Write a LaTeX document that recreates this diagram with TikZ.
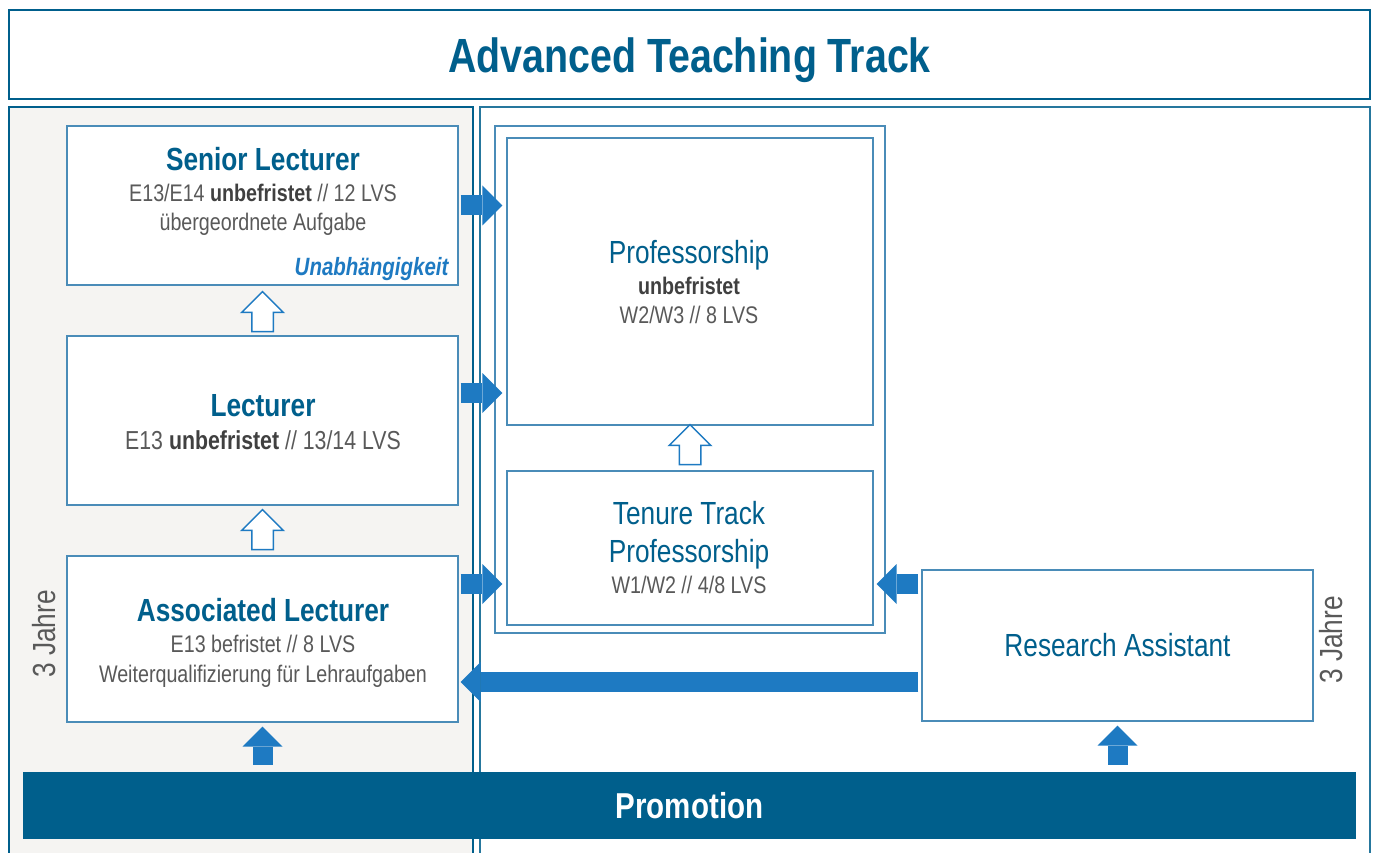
\documentclass[tikz,border=0pt]{standalone}
\usepackage{fontspec}
\setmainfont{Liberation Sans}[FakeStretch=0.82]
\usetikzlibrary{arrows.meta,shapes.arrows}

\definecolor{trackblue}{HTML}{005F8C}
\definecolor{boxblue}{HTML}{4A8CB8}
\definecolor{arrowblue}{HTML}{1E7AC2}
\definecolor{infogray}{HTML}{595959}
\definecolor{boldgray}{HTML}{404040}
\definecolor{panelgray}{HTML}{F5F4F2}

\tikzset{
  box/.style={draw=boxblue, line width=1.3pt, fill=white, inner sep=0pt},
  jobname/.style={anchor=base, text=trackblue, font=\fontsize{32}{36}\selectfont\bfseries},
  postname/.style={anchor=base, text=trackblue, font=\fontsize{32}{36}\selectfont},
  info/.style={anchor=base, text=infogray, font=\fontsize{24}{28}\selectfont},
  fatarrow/.style={draw=arrowblue, line width=20pt, -{Triangle[width=40pt,length=20pt,line width=0pt]}},
  hollowup/.style={single arrow, shape border rotate=90, draw=arrowblue, line width=1.5pt, fill=white,
    minimum width=40pt, minimum height=40pt, single arrow head extend=10pt, single arrow head indent=0pt, inner sep=10pt},
  years/.style={rotate=90, text=infogray, font=\fontsize{32}{36}\selectfont}
}

\begin{document}
\begin{tikzpicture}[x=1pt,y=-1pt]
    \useasboundingbox (0,0) rectangle (1376,853);
    \fill[white] (0,0) rectangle (1376,853);
    \draw[draw=trackblue, line width=2pt, fill=panelgray] (9,107) rectangle (473,870);
    \draw[draw=trackblue!85, line width=1.3pt] (480,107) rectangle (1370,870);
    \node[draw=trackblue, line width=2pt, minimum width=1361pt, minimum height=89pt, inner sep=0pt] (titlebox) at (689.5,54.5) {};
    \node[anchor=base, text=trackblue, font=\fontsize{48}{52}\selectfont\bfseries] (title) at (689.5,73) {Advanced Teaching Track};

    \node[box, minimum width=391pt, minimum height=159pt] (sl) at (262.5,205.5) {};
    \node[box, minimum width=391pt, minimum height=169pt] (lec) at (262.5,420.5) {};
    \node[box, minimum width=391pt, minimum height=166pt] (al) at (262.5,639) {};
    \node[box, minimum width=390pt, minimum height=507pt] (profgroup) at (690,379.5) {};
    \node[box, minimum width=366pt, minimum height=287pt] (prof) at (690,281.5) {};
    \node[box, minimum width=366pt, minimum height=154pt] (tt) at (690,548) {};
    \node[box, minimum width=391pt, minimum height=151pt, postname, anchor=center] (ra) at (1117.5,645.5) {Research Assistant};

    \node[jobname] (slname) at (263,171) {Senior Lecturer};
    \node[info] (slinfo) at (263,202) {E13/E14 {\bfseries\color{boldgray}unbefristet} // 12 LVS};
    \node[info] (sltask) at (263,231) {übergeordnete Aufgabe};
    \node[anchor=base east, text=arrowblue, font=\fontsize{25}{28}\selectfont\bfseries\itshape] (slkey) at (452,276) {Unabhängigkeit};

    \node[jobname] (lecname) at (263,416) {Lecturer};
    \node[info, font=\fontsize{26}{30}\selectfont] (lecinfo) at (263,449) {E13 {\bfseries\color{boldgray}unbefristet} // 13/14 LVS};

    \node[jobname] (alname) at (263,621) {Associated Lecturer};
    \node[info] (alinfo) at (263,652) {E13 befristet // 8 LVS};
    \node[info] (altask) at (263,682) {Weiterqualifizierung für Lehraufgaben};

    \node[postname] (profname) at (689,263) {Professorship};
    \node[info, text=boldgray, font=\fontsize{24}{28}\selectfont\bfseries] (profterm) at (689,294) {unbefristet};
    \node[info] (profinfo) at (689,323) {W2/W3 // 8 LVS};

    \node[postname] (ttname) at (689,524) {Tenure Track};
    \node[postname] (ttname2) at (689,562) {Professorship};
    \node[info] (ttinfo) at (689,593) {W1/W2 // 4/8 LVS};

    \node[years] (alyears) at (44,634) {3 Jahre};
    \node[years] (rayears) at (1331,640) {3 Jahre};

    \node[fill=trackblue, minimum width=1333pt, minimum height=67pt, inner sep=0pt, text=white,
        font=\fontsize{36}{40}\selectfont\bfseries] (promo) at (689.5,805.5) {Promotion};

    \node[hollowup, anchor=tail] (up1) at ([yshift=3pt]lec.north) {};
    \node[hollowup, anchor=tail] (up2) at ([yshift=5pt]al.north) {};
    \node[hollowup, anchor=tail] (up3) at ([yshift=5pt]tt.north) {};

    \draw[fatarrow, shorten <=2pt, shorten >=4pt] (sl.east) -- (prof.west |- sl.east);
    \draw[fatarrow, shorten <=2pt, shorten >=4pt] (lec.east |- 0,393) -- (prof.west |- 0,393);
    \draw[fatarrow, shorten <=2pt, shorten >=4pt] (al.east |- 0,584) -- (tt.west |- 0,584);
    \draw[fatarrow, shorten <=3pt, shorten >=3pt] (ra.west |- 0,584) -- (tt.east |- 0,584);
    \draw[fatarrow, shorten <=3pt, shorten >=2pt] (ra.west |- 0,682) -- (al.east |- 0,682);
    \draw[fatarrow, shorten <=7pt, shorten >=4pt] (al.south |- promo.north) -- (al.south);
    \draw[fatarrow, shorten <=7pt, shorten >=4pt] (ra.south |- promo.north) -- (ra.south);
\end{tikzpicture}
\end{document}
